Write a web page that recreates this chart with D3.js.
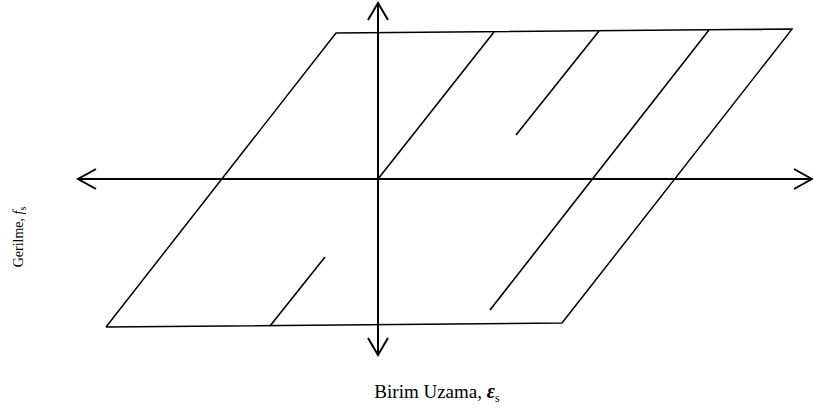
<!DOCTYPE html>
<html>
<head>
<meta charset="utf-8">
<script src="https://cdn.jsdelivr.net/npm/d3@7"></script>
<style>
  html, body { margin: 0; padding: 0; background: #fff; }
  svg { display: block; }
  text { font-family: "Liberation Serif", "Times New Roman", serif; fill: #000; }
</style>
</head>
<body>
<svg id="chart" width="813" height="412"></svg>
<script>
// Strain (ε) and stress (f) are in normalised units; the origin is the unloaded state.
const strainDomain = [-3.0, 4.34];
const stressDomain = [-1.2, 1.2];

// Hysteresis envelope: compression corner, yield (tension), hardened tension, yield (compression)
const envelopeStrain = [-2.72, -0.42, 4.14, 1.84, -2.72];
const envelopeStress = [-1.009, 0.995, 1.022, -0.982, -1.009];

// Elastic loading / unloading branches (start -> end)
const branchStartStrain = [0.00, 1.38, 1.12, -1.08];
const branchStartStress = [0.00, 0.30, -0.893, -1.002];
const branchEndStrain   = [1.16, 2.21, 3.31, -0.53];
const branchEndStress   = [1.002, 1.009, 1.016, -0.532];

const xLabel = "Birim Uzama, ";
const xSymbol = "ε";
const yLabel = "Gerilme, ";
const ySymbol = "f";
const subscript = "s";

const svg = d3.select("#chart");

const x = d3.scaleLinear().domain(strainDomain).range([78, 812]);
const y = d3.scaleLinear().domain(stressDomain).range([355, 3]);

const line = d3.line().x(d => x(d[0])).y(d => y(d[1]));

// Envelope
const envelope = envelopeStrain.map((e, i) => [e, envelopeStress[i]]);
svg.append("path")
  .attr("d", line(envelope))
  .attr("fill", "none")
  .attr("stroke", "#000")
  .attr("stroke-width", 1.5)
  .attr("stroke-linejoin", "miter");

// Branches
const branches = branchStartStrain.map((e, i) => [
  [e, branchStartStress[i]],
  [branchEndStrain[i], branchEndStress[i]]
]);
svg.selectAll("path.branch")
  .data(branches)
  .enter().append("path")
  .attr("class", "branch")
  .attr("d", line)
  .attr("fill", "none")
  .attr("stroke", "#000")
  .attr("stroke-width", 1.6);

// Axes with open arrow heads at both ends
const axisG = svg.append("g")
  .attr("stroke", "#000")
  .attr("stroke-width", 2)
  .attr("fill", "none");

const x0 = x(0), y0 = y(0);
const xl = x(strainDomain[0]), xr = x(strainDomain[1]);
const yt = y(stressDomain[1]), yb = y(stressDomain[0]);

axisG.append("line").attr("x1", xl).attr("y1", y0).attr("x2", xr).attr("y2", y0);
axisG.append("line").attr("x1", x0).attr("y1", yt).attr("x2", x0).attr("y2", yb);

const head = 18, half = 10;
axisG.append("path").attr("d", `M${xl + head},${y0 - half}L${xl},${y0}L${xl + head},${y0 + half}`);
axisG.append("path").attr("d", `M${xr - head},${y0 - half}L${xr},${y0}L${xr - head},${y0 + half}`);
axisG.append("path").attr("d", `M${x0 - half},${yt + 17}L${x0},${yt}L${x0 + half},${yt + 17}`);
axisG.append("path").attr("d", `M${x0 - half},${yb - 17}L${x0},${yb}L${x0 + half},${yb - 17}`);

// Axis titles
const xt = svg.append("text")
  .attr("x", 437)
  .attr("y", 398)
  .attr("text-anchor", "middle")
  .style("font-size", "19px");
xt.append("tspan").text(xLabel);
xt.append("tspan").text(xSymbol).style("font-style", "italic").style("font-weight", "bold").style("font-size", "20px");
xt.append("tspan").text(subscript).attr("dy", 4).style("font-size", "12px");

const yTitle = svg.append("text")
  .attr("transform", "translate(23,237) rotate(-90)")
  .attr("text-anchor", "middle")
  .style("font-size", "14px");
yTitle.append("tspan").text(yLabel);
yTitle.append("tspan").text(ySymbol).style("font-style", "italic");
yTitle.append("tspan").text(subscript).attr("dy", 3).style("font-size", "10px");
</script>
</body>
</html>
